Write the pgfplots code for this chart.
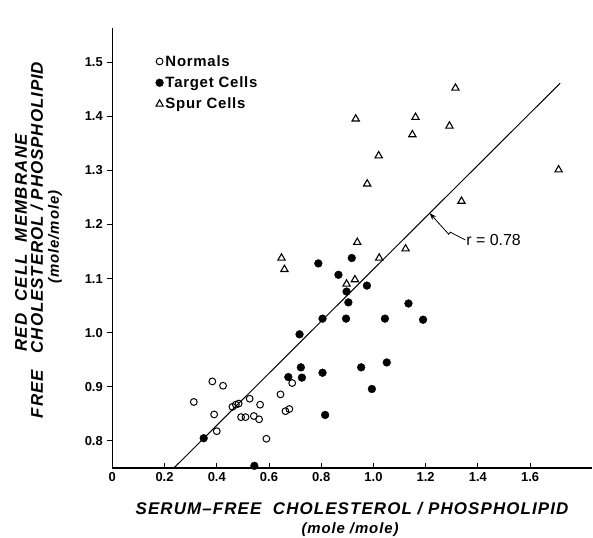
\documentclass[border=0pt]{standalone}
\usepackage{fontspec}
\setmainfont{Liberation Sans}
\usepackage{pgfplots}
\pgfplotsset{compat=1.18}
\usetikzlibrary{arrows.meta}
\begin{document}
\begin{tikzpicture}
\begin{axis}[
  scale only axis, width=480bp, height=440bp,
  xmin=0, xmax=1.838, ymin=0.75, ymax=1.563,
  axis x line=bottom, axis y line=left,
  axis line style={-, line width=1.1pt},
  clip=false,
  xtick={0,0.2,0.4,0.6,0.8,1.0,1.2,1.4,1.6},
  xticklabels={0,0.2,0.4,0.6,0.8,1.0,1.2,1.4,1.6},
  ytick={0.8,0.9,1.0,1.1,1.2,1.3,1.4,1.5},
  yticklabels={0.8,0.9,1.0,1.1,1.2,1.3,1.4,1.5},
  tick align=inside, major tick length=5bp,
  tick style={black, line width=0.9pt},
  y tick style={xshift=-5bp},
  ticklabel style={font=\fontsize{13}{15}\selectfont\bfseries},
  x tick label style={yshift=-1bp},
  y tick label style={xshift=-6bp},
  /pgf/number format/assume math mode=true,
  legend style={draw=none, fill=none, at={(rel axis cs:0.09,0.943)}, anchor=north west,
    font=\fontsize{15}{17}\selectfont\bfseries\addfontfeatures{LetterSpace=5}, row sep=5bp, inner sep=0pt},
  legend cell align=left,
  legend image code/.code={\draw[#1] plot coordinates {(0bp,0bp)};},
]
\coordinate (O) at (rel axis cs:0,0);
\addplot[only marks, mark=o, mark size=3.4bp, line width=1pt, black] coordinates {
(0.312,0.872) (0.383,0.910) (0.390,0.849) (0.400,0.818) (0.424,0.902)
(0.460,0.863) (0.473,0.867) (0.484,0.869) (0.493,0.844) (0.510,0.844)
(0.526,0.878) (0.542,0.846) (0.562,0.840) (0.566,0.867) (0.590,0.804)
(0.644,0.886) (0.663,0.855) (0.678,0.859) (0.689,0.907)
};
\addlegendentry{Normals}
\addplot[only marks, mark=*, mark size=3.9bp, black] coordinates {
(0.350,0.805) (0.544,0.754) (0.674,0.918) (0.717,0.997) (0.722,0.936)
(0.726,0.917) (0.789,1.128) (0.805,1.026) (0.805,0.926) (0.815,0.848)
(0.866,1.107) (0.895,1.026) (0.897,1.076) (0.904,1.056) (0.917,1.138)
(0.953,0.936) (0.975,1.087) (0.994,0.896) (1.044,1.026) (1.051,0.945)
(1.134,1.054) (1.190,1.024)
};
\addlegendentry{Target Cells}
\addplot[only marks, mark=triangle, mark size=4.2bp, line width=1.1pt, black] coordinates {
(0.648,1.138) (0.659,1.117) (0.897,1.090) (0.929,1.098) (0.938,1.167)
(0.932,1.395) (0.976,1.275) (1.020,1.327) (1.022,1.138) (1.123,1.155)
(1.149,1.366) (1.161,1.398) (1.291,1.382) (1.314,1.452) (1.337,1.243)
(1.709,1.301)
};
\addlegendentry{Spur Cells}
\addplot[black, line width=1pt, forget plot] coordinates {(0.236,0.75) (1.715,1.461)};
\draw[line width=0.8pt, -{Stealth[length=7bp,width=5bp]}]
  (axis cs:1.351,1.1715) -- (axis cs:1.294,1.1858) -- (axis cs:1.288,1.182) -- (axis cs:1.215,1.221);
\node[anchor=west, font=\fontsize{16}{18}\selectfont, inner sep=1bp] at (axis cs:1.351,1.1715) {r = 0.78};
\end{axis}
\node[font=\fontsize{17}{20}\selectfont\bfseries\itshape\addfontfeatures{LetterSpace=6.5}] at ([shift={(239.7bp,-41bp)}]O) {SERUM--FREE\ \ CHOLESTEROL\ /\ PHOSPHOLIPID};
\node[font=\fontsize{15}{18}\selectfont\bfseries\itshape\addfontfeatures{LetterSpace=6}] at ([shift={(237.7bp,-62bp)}]O) {(mole /mole)};
\node[rotate=90, font=\fontsize{17}{20}\selectfont\bfseries\itshape\addfontfeatures{LetterSpace=7}] at ([shift={(-91.3bp,225bp)}]O) {RED\ \ CELL\ \ MEMBRANE};
\node[rotate=90, font=\fontsize{17}{20}\selectfont\bfseries\itshape\addfontfeatures{LetterSpace=5.5}] at ([shift={(-75.3bp,228bp)}]O) {FREE\ \ \ CHOLESTEROL / PHOSPHOLIPID};
\node[rotate=90, font=\fontsize{15}{18}\selectfont\bfseries\itshape\addfontfeatures{LetterSpace=6}] at ([shift={(-57.3bp,231bp)}]O) {(mole/mole)};
\pgfresetboundingbox
\path[use as bounding box] ([shift={(-112.3bp,-70bp)}]O) rectangle ++(593bp,538bp);
\end{tikzpicture}
\end{document}
